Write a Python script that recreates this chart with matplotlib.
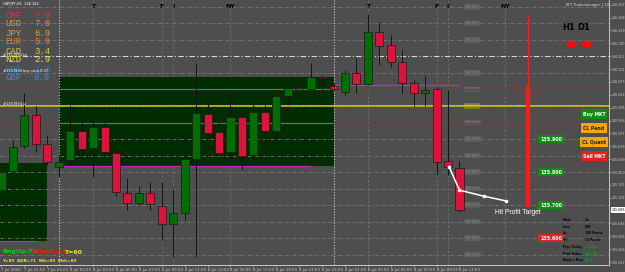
import matplotlib
matplotlib.use('Agg')
import matplotlib.pyplot as plt
from matplotlib.transforms import blended_transform_factory
import numpy as np

# GBPJPY H1 candles, index 5 = 8 Jul 00:00
opens = [135.745, 135.803, 135.879, 135.973, 135.885, 135.815, 135.836, 135.924, 135.873, 135.936,
         135.858, 135.736, 135.706, 135.736, 135.697, 135.642, 135.676, 135.839, 135.976, 135.921,
         135.861, 135.967, 135.852, 135.982, 135.924, 136.030, 136.055, 136.052, 136.088, 136.061,
         136.042, 136.100, 136.067, 136.224, 136.185, 136.133, 136.070, 136.039, 136.052, 135.833,
         135.812]
closes = [135.800, 135.876, 135.973, 135.885, 135.830, 135.830, 135.924, 135.870, 135.936, 135.861,
          135.739, 135.706, 135.736, 135.703, 135.642, 135.676, 135.839, 135.979, 135.918, 135.858,
          135.967, 135.848, 135.982, 135.924, 136.030, 136.055, 136.048, 136.088, 136.085, 136.052,
          136.100, 136.067, 136.224, 136.182, 136.133, 136.070, 136.039, 136.048, 135.830, 135.815,
          135.685]
highs = [135.821, 135.897, 136.039, 136.000, 135.912, 135.852, 136.003, 135.958, 135.994, 135.982,
         135.876, 135.782, 135.758, 135.770, 135.770, 135.748, 135.903, 136.130, 136.018, 135.979,
         136.039, 135.988, 136.030, 136.009, 136.039, 136.064, 136.067, 136.130, 136.094, 136.070,
         136.109, 136.145, 136.279, 136.255, 136.215, 136.170, 136.079, 136.091, 136.058, 136.048,
         135.833]
lows = [135.730, 135.776, 135.873, 135.861, 135.821, 135.785, 135.821, 135.842, 135.785, 135.821,
        135.727, 135.685, 135.700, 135.685, 135.594, 135.542, 135.655, 135.542, 135.903, 135.842,
        135.836, 135.806, 135.842, 135.897, 135.891, 136.003, 136.009, 136.042, 136.048, 136.048,
        136.033, 136.039, 136.064, 136.124, 136.118, 136.039, 136.000, 136.000, 135.794, 135.791,
        135.679]

# currency strength meter
currencies = ['CHF', 'USD', 'JPY', 'EUR', 'CAD', 'NZD', 'AUD', 'GBP']
strength = [7.9, 7.0, 6.9, 5.9, 3.4, 2.9, 1.3, 0.9]
cur_colors = ['#d23a3a', '#d49a5a', '#d0a050', '#dd8a2a', '#cfc84a', '#e6e23a', '#2a78d0', '#3f8fdc']

# levels / zones
entry_level = 136.000
red_levels = [136.050, 135.950]
tp_level = 136.150
zones = [(5, 29, 135.818, 136.088), (-0.2, 4, 135.591, 135.827)]   # x0, x1, low, high
range_lines = [(5, 27, 135.818), (29, 40, 136.064), (-0.2, 3, 135.591)]
sessions = [(8, 'T'), (14, 'F'), (15, 'I'), (20, 'NY'), (32, 'T'), (38, 'F'), (39, 'I'), (44, 'NY')]
day_breaks = [5, 29]

# trade manager
tm_x = 46
tm_levels = [135.900, 135.800, 135.700, 135.600]
tm_colors = ['#138a13', '#138a13', '#138a13', '#e52222']
path_x = [39.1, 40.0, 42.1, 44.1]
path_y = [135.815, 135.745, 135.727, 135.712]

BG = '#4e4e4e'
fig = plt.figure(figsize=(6.25, 2.72), dpi=100, facecolor=BG)
ax = fig.add_axes([0, 7 / 272, 609 / 625, 265 / 272], facecolor=BG)
ax.set_xlim(-0.131, 53.057)
ax.set_ylim(135.5182, 136.3212)


def fp(x, y):
    return x / 625, 1 - y / 272


# grid
for lv in np.arange(135.55, 136.31, 0.05):
    if abs(lv - tp_level) < 1e-6:
        continue
    ax.axhline(lv, color='#7a7a7a', lw=0.6, ls=(0, (4, 2, 1, 2)), zorder=2.5)
    col = '#80782e' if abs(lv - entry_level) < 1e-6 else '#5d5d5d'
    ax.text(41.1, lv, f'{lv:.3f}', fontsize=2.6, color='#8a8a8a', ha='center', va='center',
            zorder=2.6, bbox=dict(boxstyle='square,pad=0.25', fc=col, ec='none'))
ax.axhline(tp_level, color='#d8d8d8', lw=0.8, ls=(0, (5, 2, 1, 2)), zorder=2.5)

for x, lab in sessions:
    ax.axvline(x, color='#7a7a7a', lw=0.5, ls=(0, (3, 3)), zorder=1)
    ax.text(x, 0.975, lab, transform=ax.get_xaxis_transform(), fontsize=4.5,
            fontweight='bold', color='black', ha='center', va='center')
for x in day_breaks:
    ax.axvline(x, color='#c8c8c8', lw=0.8, ls=(0, (1, 1.5)), zorder=2.5)

# zones
for x0, x1, lo, hi in zones:
    ax.fill_between([x0, x1], lo, hi, color='#002c00', lw=0, zorder=2)

# red/yellow levels
z0, z1 = zones[0][0], zones[0][1]
for lv in red_levels:
    ax.hlines(lv, -1, z0, color='#9c2c3c', lw=0.9, zorder=2.7)
    ax.hlines(lv, z1, 60, color='#9c2c3c', lw=0.9, zorder=2.7)
    ax.hlines(lv, z0, z1, color='#6e6e6e', lw=0.9, zorder=2.7)
ax.axhline(entry_level, color='#f0dc00', lw=1.1, zorder=2.8)
ax.axhline(entry_level, color='#202020', lw=0.4, ls=(0, (1, 2)), zorder=2.9)

for x0, x1, lv in range_lines:
    ax.hlines(lv, x0, x1, color='#c02ac0', lw=0.9, zorder=3)

# candles
idx = np.arange(len(opens))
o, c = np.array(opens), np.array(closes)
up = c >= o
ax.vlines(idx, lows, highs, color='#141414', lw=0.7, zorder=3.5)
ax.bar(idx[up], (c - o)[up], bottom=o[up], width=0.7, color='#006e00',
       edgecolor='#1a1a1a', lw=0.5, zorder=4)
ax.bar(idx[~up], (c - o)[~up], bottom=o[~up], width=0.7, color='#dc143c',
       edgecolor='#1a1a1a', lw=0.5, zorder=4)

# trade manager line + boxes
ax.vlines(tm_x, 136.064, 136.279, color='#ff1a1a', lw=0.8, zorder=5)
ax.vlines(tm_x, 135.694, 136.064, color='#ff1a1a', lw=3, zorder=5)
for lv, col in zip(tm_levels, tm_colors):
    ax.text(tm_x + 2, lv, f'{lv:.3f}', fontsize=3.4, color='white', fontweight='bold',
            ha='center', va='center', zorder=6,
            bbox=dict(boxstyle='square,pad=0.35', fc=col, ec='none'))
ax.plot(path_x, path_y, color='white', lw=1.1, marker='o', ms=1.6, zorder=6)

# axes styling
for s in ['top', 'left']:
    ax.spines[s].set_visible(False)
for s in ['right', 'bottom']:
    ax.spines[s].set_color('#c8c8c8')
    ax.spines[s].set_linewidth(0.7)
ax.yaxis.tick_right()
yt = 135.527 + 0.039 * np.arange(21)
ax.set_yticks(yt)
ax.set_yticklabels([f'{v:.3f}' for v in yt])
ax.tick_params(axis='y', labelsize=2.3, colors='#d0d0d0', length=1.2, pad=0.5, width=0.4)

xt = list(range(0, 41, 2))
xl = []
for i in xt:
    h = i - 5
    day = 8 if h >= 0 else 7
    if i == 0:
        xl.append('7 Jul 2020')
    else:
        xl.append(f'{day} Jul {h % 24:02d}:00')
ax.set_xticks(xt)
ax.set_xticklabels(xl, ha='left')
ax.tick_params(axis='x', labelsize=2.8, colors='#d0d0d0', length=1.5, pad=0.5, width=0.4)

# current price tag
ax.text(1.004, closes[-1], f'{closes[-1]:.3f}',
        transform=blended_transform_factory(ax.transAxes, ax.transData),
        fontsize=2.3, color='black', ha='left', va='center', clip_on=False, zorder=7,
        bbox=dict(boxstyle='square,pad=0.25', fc='white', ec='none'))

# currency strength panel
for k, (cur, val, col) in enumerate(zip(currencies, strength, cur_colors)):
    y = 15 + 9 * k
    fig.text(*fp(5, y), cur, fontsize=6.5, family='Liberation Mono', color=col, va='center')
    fig.text(*fp(34, y), f'{val:.1f}', fontsize=6.5, family='Liberation Mono', color=col, va='center')

tiny = dict(fontsize=2.6, color='white', va='center')
fig.text(*fp(3, 4), 'GBPJPY,H1  136.182', **tiny)
fig.text(*fp(3, 55), '#1357834 tp', **tiny)
fig.text(*fp(3, 71), '#1357834 buy stop 0.07', **tiny)
fig.text(*fp(3, 104), '#1357834 sl', **tiny)
fig.text(*fp(566, 5), 'EFT Trademanager 1.10', fontsize=2.6, color='#dddddd', va='center')

fig.text(*fp(2, 252), 'RngUp:71', fontsize=4.5, fontweight='bold', color='#22c422', va='center')
fig.text(*fp(32, 252), 'RngDn:11', fontsize=4.5, fontweight='bold', color='#e02020', va='center')
fig.text(*fp(64, 252), 'T=60', fontsize=4.5, fontweight='bold', color='#f0e020', va='center')
fig.text(*fp(2, 261), 'Y=89  ADR=71  Wk=89  Mth=89', fontsize=3, fontweight='bold', color='#f0e020', va='center')

# H1 / D1 trend boxes
fig.text(*fp(562, 27), 'H1', fontsize=6, fontweight='bold', color='black', va='center')
fig.text(*fp(577, 27), 'D1', fontsize=6, fontweight='bold', color='black', va='center')
for x0 in [567, 582]:
    fig.patches.append(plt.Rectangle(fp(x0, 46), 8 / 625, 5 / 272, transform=fig.transFigure,
                                     color='#ee1010'))

# buttons
buttons = [('Buy MKT', 114, '#138a13', 'white'), ('CL Pend', 128, '#f2a800', '#202020'),
           ('CL Quant', 142, '#f2a800', '#202020'), ('Sell MKT', 156, '#e52222', 'white')]
for txt, y, fc, tc in buttons:
    fig.text(*fp(594, y), txt, fontsize=3.3, fontweight='bold', color=tc, ha='center', va='center',
             bbox=dict(boxstyle='square,pad=0.45', fc=fc, ec='none'))

fig.text(*fp(495, 213), 'Hit Profit Target', fontsize=4.8, family='Liberation Sans',
         color='white', va='center')

info = [('Risk:', '1%', 'black'), ('Lots:', '0.07', 'black'), ('SL:', '100 Points', 'black'),
        ('TP:', '50 Points', 'black'), ('Pips Today:', '7.0 Pips', '#10a010'),
        ('Prof Today:', '0.00 (0)', '#10a010'), ('Margin Req:', '45.00', '#10a010')]
for k, (lab, val, col) in enumerate(info):
    y = 220 + 6.7 * k
    fig.text(*fp(563, y), lab, fontsize=2.5, fontweight='bold', family='Liberation Sans',
             color='black', va='center')
    fig.text(*fp(585, y), val, fontsize=2.5, fontweight='bold', family='Liberation Sans',
             color=col, va='center')

fig.savefig('out.png', dpi=100, facecolor=BG)
